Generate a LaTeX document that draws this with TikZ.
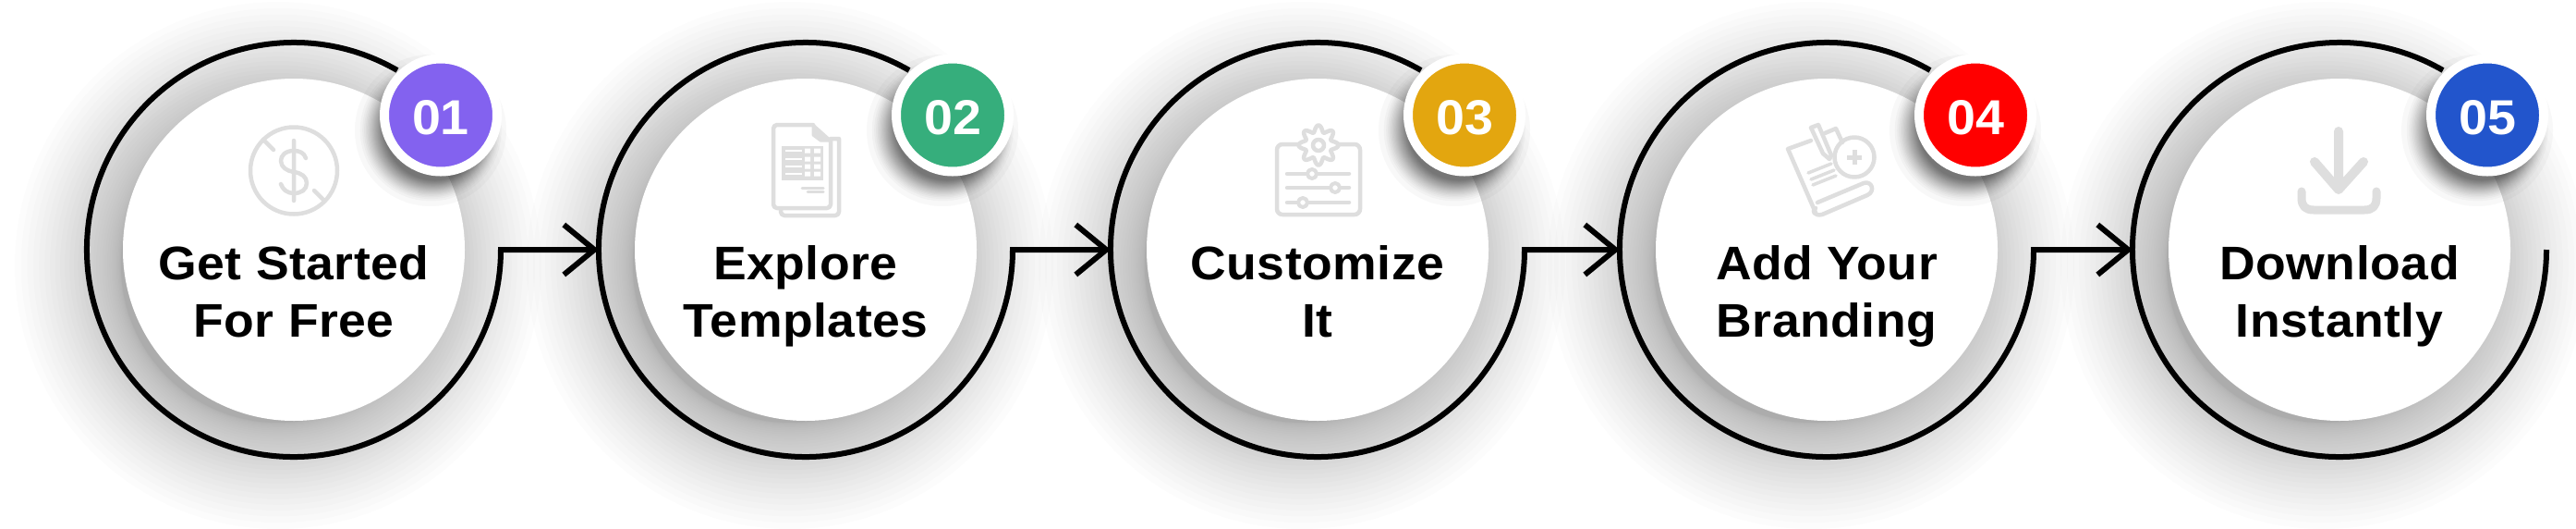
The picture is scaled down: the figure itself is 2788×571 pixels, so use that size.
\documentclass[tikz,border=0pt]{standalone}
\usepackage{fontspec}
\usetikzlibrary{arrows.meta}
\newfontfamily\labelfont[FakeStretch=1.05,LetterSpace=1]{Liberation Sans}
\newfontfamily\badgefont[FakeStretch=1.05]{Liberation Sans}
\definecolor{iconcol}{HTML}{DEDEDE}
\definecolor{col1}{HTML}{8362EF}
\definecolor{col2}{HTML}{36AE7C}
\definecolor{col3}{HTML}{E3A60F}
\definecolor{col4}{HTML}{FF0000}
\definecolor{col5}{HTML}{2255CC}
\tikzset{
	ringnode/.style={circle,minimum size=448pt,inner sep=0pt,outer sep=0pt},
	discnode/.style={circle,fill=white,minimum size=370pt,inner sep=0pt,outer sep=0pt},
	badgenode/.style={circle,draw=white,line width=10pt,minimum size=122pt,inner sep=0pt,outer sep=0pt,text=white,text height=42pt,text depth=0pt,font=\badgefont\bfseries\fontsize{53}{53}\selectfont},
	labelnode/.style={align=center,inner sep=0pt,text height=98pt,text depth=14pt,font=\labelfont\bfseries\fontsize{51}{62}\selectfont},
	ringline/.style={line width=6pt,black},
	iconline/.style={draw=iconcol,line width=4.5pt,line cap=round,line join=round},
}

\begin{document}
\begin{tikzpicture}[x=1pt,y=-1pt]
	\useasboundingbox (0,0) rectangle (2788,571);
	\foreach \x in {318,872,1426,1977,2532}{
		\foreach \i in {0,...,33}
			\fill[black,opacity=.012] (\x-17,287) circle[radius={170+115*(\i/33)^2}];
	}
	\foreach \n/\x/\txt in {1/318/Get Started\\For Free,2/872/Explore\\Templates,3/1426/Customize\\It,4/1977/Add Your\\Branding,5/2532/Download\\Instantly}{
		\node[ringnode] (ring\n) at (\x,270) {};
		\node[discnode] (disc\n) at (\x,270) {};
		\node[labelnode] (label\n) at (\x,322) {\txt};
	}
	\foreach \n/\next in {1/2,2/3,3/4,4/5}
		\draw[ringline,-{Straight Barb[length=33pt,width=54pt]}] (ring\n.60) arc[start angle=60,end angle=360,radius=224pt] -- (ring\next.west);
	\draw[ringline] (ring5.60) arc[start angle=60,end angle=360,radius=224pt];
	% icons
	\draw[iconline] (318,184.5) circle[radius=47];
	\draw[iconline] (285,151) -- (296,162) (340,206) -- (351,217) (318,152) -- (318,217);
	\draw[iconline] (331,171) .. controls (329,165) and (324,163) .. (318,163) .. controls (309,163) and (304,168) .. (304,174) .. controls (304,181) and (311,185) .. (318,186) .. controls (326,187) and (332,191) .. (332,198) .. controls (332,205) and (326,209) .. (318,209) .. controls (311,209) and (306,205) .. (304,199);
	\draw[iconline] (899,150) -- (908,150) [rounded corners=4pt] -- (908,233) -- (845,233) -- (845,225);
	\draw[iconline,fill=white,rounded corners=4pt] (880,135) -- (837,135) -- (837,225) -- (899,225) -- (899,152);
	\fill[iconcol,line join=round,draw=iconcol,line width=3pt] (880,135) -- (880,146) -- (888,152) -- (899,152) -- cycle;
	\fill[iconcol] (846,158) rectangle (891,195);
	\foreach \y in {163,172,180,188}{
		\draw[white,line width=2pt] (850,\y) -- (868,\y);
		\fill[white] (871,\y-2.5) rectangle (877,\y+2.5) (881,\y-2.5) rectangle (888,\y+2.5);
	}
	\draw[iconline,line width=3pt] (868,203) -- (891,203) (874,207.5) -- (891,207.5);
	\draw[iconline,rounded corners=6pt] (1382,156) rectangle (1472,232);
	\draw[iconline,fill=white] plot[domain=0:360,samples=145,variable=\t] ({1427+(18+3.5*cos(8*\t))*cos(\t)},{157+(18+3.5*cos(8*\t))*sin(\t)}) -- cycle;
	\draw[iconline] (1427,157) circle[radius=6];
	\draw[iconline] (1393,188) -- (1460,188) (1393,203) -- (1460,203) (1393,219) -- (1460,219);
	\foreach \kx/\ky in {1420/188,1445/203,1410/219}
		\draw[iconline,fill=white,line width=4pt] (\kx,\ky) circle[radius=5];
	\draw[iconline] (1960,152) -- (1935,161) -- (1965,230);
	\draw[iconline] (1975,144) -- (1987,139) -- (1994,154);
	\draw[iconline,fill=white] (1960,138) -- (1968,135) -- (1982,168) -- (1980,172) -- (1973,166) -- cycle;
	\draw[iconline] (2007,170) circle[radius=21.5];
	\draw[iconcol,line width=5pt] (1999,170) -- (2015,170) (2007,162) -- (2007,178);
	\draw[iconline,line width=3.5pt] (1957,187) -- (1982,177) (1960,194) -- (1985,184) (1962,200) -- (1987,190);
	\draw[iconline] (1967,219) -- (2017,198) .. controls (2026,195) and (2030,207) .. (2021,211) -- (1972,232) .. controls (1964,234) and (1960,228) .. (1965,225);
	\draw[iconline,line width=10pt] (2531,142) -- (2531,205) (2505,175) -- (2531,205) -- (2558,175);
	\draw[iconline,line width=9pt] (2491,207) -- (2491,214) .. controls (2491,223) and (2495,227) .. (2504,227) -- (2559,227) .. controls (2568,227) and (2572,223) .. (2572,214) -- (2572,207);
	% badges
	\foreach \n/\x in {1/477,2/1031,3/1585,4/2138,5/2692}{
		\foreach \i in {0,...,24}
			\fill[black,opacity=.027] ({\x-11+\i*.2},{141-\i*.04}) circle[radius={82-27*sqrt(\i/24)}];
		\node[badgenode,fill=col\n] (badge\n) at (\x,124.5) {0\n};
	}
\end{tikzpicture}
\end{document}
